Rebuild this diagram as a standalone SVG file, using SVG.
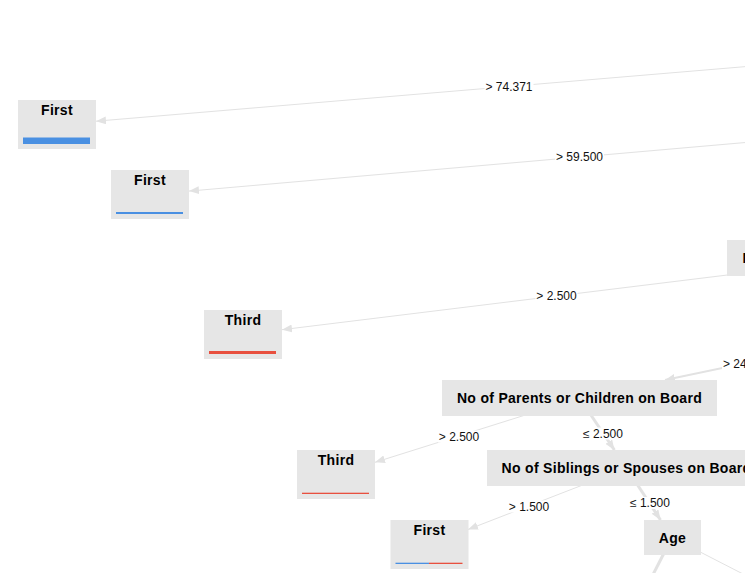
<svg xmlns="http://www.w3.org/2000/svg" width="755" height="573" viewBox="0 0 755 573">
<style>
.nd{fill:#e6e6e6}
.nt{font:bold 14px "Liberation Sans",Arial,sans-serif;fill:#000;text-anchor:middle;letter-spacing:0.3px}
.lt{font:12px "Liberation Sans",Arial,sans-serif;fill:#111;text-anchor:middle}
.lb{fill:#fff}
.e{stroke:#e2e2e2;fill:none;stroke-width:1}
.e2{stroke:#e2e2e2;fill:none;stroke-width:2}
.e3{stroke:#e2e2e2;fill:none;stroke-width:3}
.blue{fill:#4a90e2}
.red{fill:#e8503f}
</style>
<defs>
<marker id="ah" markerUnits="userSpaceOnUse" markerWidth="10" markerHeight="8" refX="10" refY="4" orient="auto" viewBox="0 0 10 8">
<path d="M0,0 L10,4 L0,8 z" fill="#e2e2e2"/>
</marker>
<clipPath id="vp"><rect x="0" y="0" width="745" height="573"/></clipPath>
</defs>
<rect width="755" height="573" fill="#fff"/>
<g clip-path="url(#vp)">
<g id="connectors">
<line class="e" x1="961" y1="48.5" x2="96" y2="121.2" marker-end="url(#ah)"/>
<line class="e" x1="1009" y1="119.5" x2="189" y2="191.1" marker-end="url(#ah)"/>
<line class="e" x1="870" y1="257.5" x2="282" y2="329.7" marker-end="url(#ah)"/>
<line class="e2" x1="912.5" y1="328" x2="665" y2="380" marker-end="url(#ah)"/>
<line class="e" x1="579.5" y1="398" x2="375" y2="462.3" marker-end="url(#ah)"/>
<line class="e3" x1="579.5" y1="398" x2="614.4" y2="450" marker-end="url(#ah)"/>
<line class="e" x1="626.5" y1="468" x2="468" y2="529.5" marker-end="url(#ah)"/>
<line class="e3" x1="626.5" y1="468" x2="660.5" y2="520" marker-end="url(#ah)"/>
<line class="e3" x1="672" y1="537.5" x2="640" y2="600"/>
<line class="e" x1="672" y1="537.5" x2="780" y2="593"/>
<g id="labels">
<rect class="lb" x="484.5" y="80.5" width="49" height="12"/><text class="lt" x="509" y="90.8">&gt; 74.371</text>
<rect class="lb" x="555" y="151" width="49" height="12"/><text class="lt" x="579.5" y="161.3">&gt; 59.500</text>
<rect class="lb" x="535.5" y="290" width="42" height="12"/><text class="lt" x="556.5" y="300.3">&gt; 2.500</text>
<rect class="lb" x="722" y="357" width="30" height="12"/><text class="lt" x="723" y="367.5" style="text-anchor:start">&gt; 24</text>
<rect class="lb" x="438" y="430.5" width="42" height="12"/><text class="lt" x="459" y="440.8">&gt; 2.500</text>
<rect class="lb" x="582" y="427.5" width="42" height="12"/><text class="lt" x="603" y="437.8">≤ 2.500</text>
<rect class="lb" x="508" y="500.5" width="42" height="12"/><text class="lt" x="529" y="510.8">&gt; 1.500</text>
<rect class="lb" x="629" y="497" width="42" height="12"/><text class="lt" x="650" y="507.3">≤ 1.500</text>
</g>
</g>
<g id="n-first-1"><rect class="nd" x="18" y="100" width="78" height="49"/><text class="nt" x="57" y="115">First</text><rect class="blue" x="23" y="137.5" width="67" height="6.5"/></g>
<g id="n-first-2"><rect class="nd" x="111" y="170" width="78" height="49"/><text class="nt" x="150" y="185">First</text><rect class="blue" x="116" y="212" width="67" height="2"/></g>
<g id="n-third-1"><rect class="nd" x="204" y="310" width="78" height="49"/><text class="nt" x="243" y="325">Third</text><rect class="red" x="209" y="351" width="67" height="3"/></g>
<g id="n-third-2"><rect class="nd" x="297" y="450" width="78" height="49"/><text class="nt" x="336" y="465">Third</text><rect class="red" x="302" y="492.7" width="67" height="1.3"/></g>
<g id="n-first-3"><rect class="nd" x="390.5" y="520" width="78" height="49"/><text class="nt" x="429.5" y="535">First</text><rect class="blue" x="395.5" y="562.7" width="33.5" height="1.3"/><rect class="red" x="429" y="562.7" width="33.5" height="1.3"/></g>
<g id="n-right"><rect class="nd" x="727" y="240" width="286" height="36"/><text class="nt" x="742.5" y="263" style="text-anchor:start">No of Siblings or Spouses on Board</text></g>
<g id="n-parents"><rect class="nd" x="442" y="380" width="275" height="36"/><text class="nt" x="579.5" y="403">No of Parents or Children on Board</text></g>
<g id="n-siblings"><rect class="nd" x="487" y="450" width="279" height="36"/><text class="nt" x="626.5" y="473">No of Siblings or Spouses on Board</text></g>
<g id="n-age"><rect class="nd" x="644" y="520" width="57" height="35"/><text class="nt" x="672.5" y="543">Age</text></g>
</g>
</svg>
